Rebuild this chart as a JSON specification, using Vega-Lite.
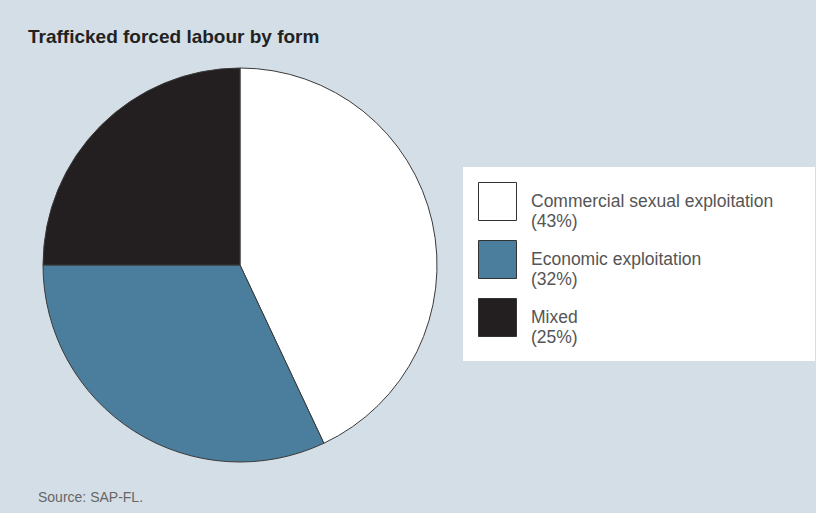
{
  "$schema": "https://vega.github.io/schema/vega-lite/v6.json",
  "background": "#d4dee6",
  "padding": {"left": 28, "top": 28, "right": 4, "bottom": 11},
  "title": {
    "text": "Trafficked forced labour by form",
    "anchor": "start",
    "font": "Liberation Sans",
    "fontSize": 19,
    "fontWeight": "bold",
    "color": "#222222",
    "dx": -10,
    "offset": 19
  },
  "vconcat": [
    {
      "width": 394,
      "height": 394,
      "title": {
        "text": "Source: SAP-FL.",
        "orient": "bottom",
        "anchor": "start",
        "font": "Liberation Sans",
        "fontSize": 14,
        "fontWeight": "normal",
        "color": "#666666",
        "dx": -3,
        "offset": 27
      },
      "data": {
        "values": [
          {"form": "Commercial sexual exploitation (43%)", "share": 43, "rank": 1},
          {"form": "Economic exploitation (32%)", "share": 32, "rank": 2},
          {"form": "Mixed (25%)", "share": 25, "rank": 3}
        ]
      },
      "mark": {"type": "arc", "radius": 197, "stroke": "#3a3a3a", "strokeWidth": 1},
      "encoding": {
        "theta": {"field": "share", "type": "quantitative", "stack": true},
        "order": {"field": "rank", "type": "quantitative"},
        "color": {
          "field": "form",
          "type": "nominal",
          "sort": ["Commercial sexual exploitation (43%)", "Economic exploitation (32%)", "Mixed (25%)"],
          "scale": {
            "domain": ["Commercial sexual exploitation (43%)", "Economic exploitation (32%)", "Mixed (25%)"],
            "range": ["#ffffff", "#4b7d9c", "#231f20"]
          },
          "legend": {
            "orient": "none",
            "legendX": 420,
            "legendY": 99,
            "title": null,
            "fillColor": "#ffffff",
            "strokeColor": null,
            "padding": 15,
            "symbolType": "square",
            "symbolSize": 1444,
            "symbolStrokeColor": "#333333",
            "symbolStrokeWidth": 1,
            "symbolOpacity": 1,
            "rowPadding": 8,
            "labelFont": "Liberation Sans",
            "labelFontSize": 17.5,
            "labelColor": "#555555",
            "labelOffset": 14,
            "labelLimit": 400,
            "labelBaseline": "middle",
            "labelExpr": "[split(datum.label, ' (')[0] + '\u2800\u2800', '(' + split(datum.label, ' (')[1]]"
          }
        }
      }
    }
  ],
  "config": {
    "view": {"stroke": null},
    "style": {"guide-label": {"lineHeight": 20}}
  }
}
